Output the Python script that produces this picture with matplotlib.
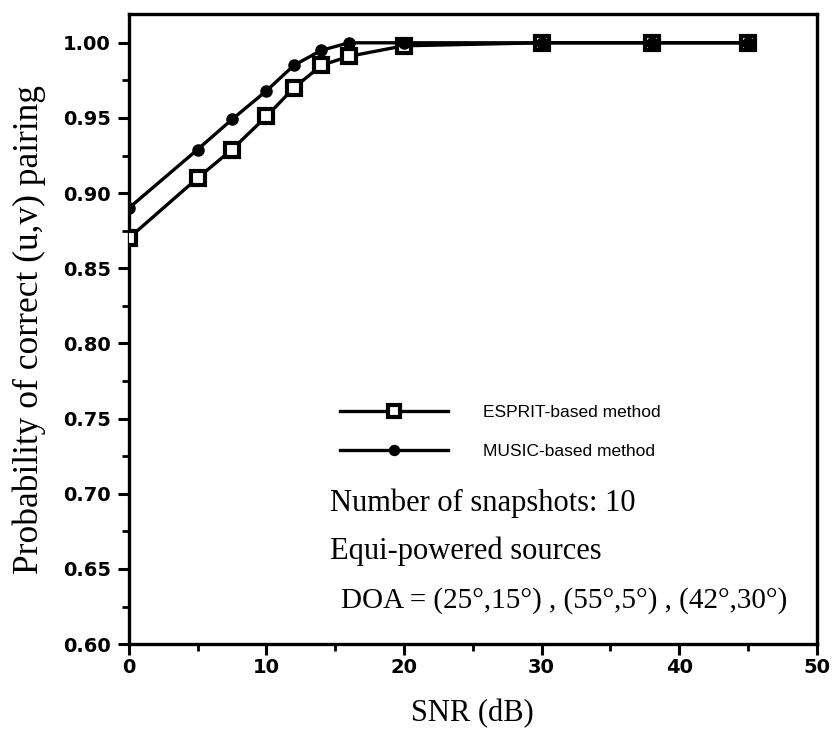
import numpy as np
import matplotlib
matplotlib.use("Agg")
import matplotlib.pyplot as plt

# values
snr = [0, 5, 7.5, 10, 12, 14, 16, 20, 30, 38, 45]
p_esprit = [0.870, 0.910, 0.929, 0.951, 0.970, 0.985, 0.991, 0.998, 1.0, 1.0, 1.0]
p_music = [0.890, 0.929, 0.949, 0.968, 0.985, 0.995, 1.0, 1.0, 1.0, 1.0, 1.0]

xticks = [0, 10, 20, 30, 40, 50]
yticks = [0.60, 0.65, 0.70, 0.75, 0.80, 0.85, 0.90, 0.95, 1.00]

serif = ["Liberation Serif", "DejaVu Serif"]
sans = ["Liberation Sans", "DejaVu Sans"]

fig = plt.figure(figsize=(8.36, 7.49), dpi=100)
ax = fig.add_axes([0.154, 0.140, 0.823, 0.841])

ax.plot(snr, p_esprit, color="black", lw=2.4, marker="s", ms=9.5,
        mfc="white", mec="black", mew=3.0, label="ESPRIT-based method", zorder=3)
ax.plot(snr, p_music, color="black", lw=2.4, marker="o", ms=8,
        mfc="black", mec="black", label="MUSIC-based method", zorder=4)

ax.set_xlim(0, 50)
ax.set_ylim(0.60, 1.019)
ax.set_xticks(xticks)
ax.set_xticks(np.arange(5, 50, 10), minor=True)
ax.set_yticks(yticks)
ax.set_yticks(np.arange(0.625, 1.0, 0.05), minor=True)
ax.set_xticklabels([str(t) for t in xticks], fontsize=14, fontweight="bold", family="DejaVu Sans")
ax.set_yticklabels(["%.2f" % t for t in yticks], fontsize=14, fontweight="bold", family="DejaVu Sans")
ax.tick_params(which="major", direction="out", length=8, width=2.2, pad=2)
ax.tick_params(axis="y", which="major", pad=5)
ax.tick_params(which="minor", direction="out", length=5, width=2.0)

for s in ax.spines.values():
    s.set_linewidth(2.4)

ax.set_xlabel("SNR (dB)", fontsize=22, family=serif, labelpad=16)
ax.set_ylabel("Probability of correct (u,v) pairing", fontsize=25.5, family=serif, labelpad=12)

leg = ax.legend(loc="upper left", bbox_to_anchor=(0.285, 0.405), frameon=False,
                handlelength=6.2, handletextpad=2.0, labelspacing=1.4,
                markerscale=0.9, prop={"family": sans, "size": 12.5})

ax.text(0.292, 0.224, "Number of snapshots: 10", transform=ax.transAxes,
        fontsize=22, family=serif, va="center")
ax.text(0.292, 0.148, "Equi-powered sources", transform=ax.transAxes,
        fontsize=22, family=serif, va="center")
ax.text(0.308, 0.070, "DOA = (25\u00b0,15\u00b0) , (55\u00b0,5\u00b0) , (42\u00b0,30\u00b0)",
        transform=ax.transAxes, fontsize=21, family=serif, va="center")

fig.savefig("out.png", dpi=100)
